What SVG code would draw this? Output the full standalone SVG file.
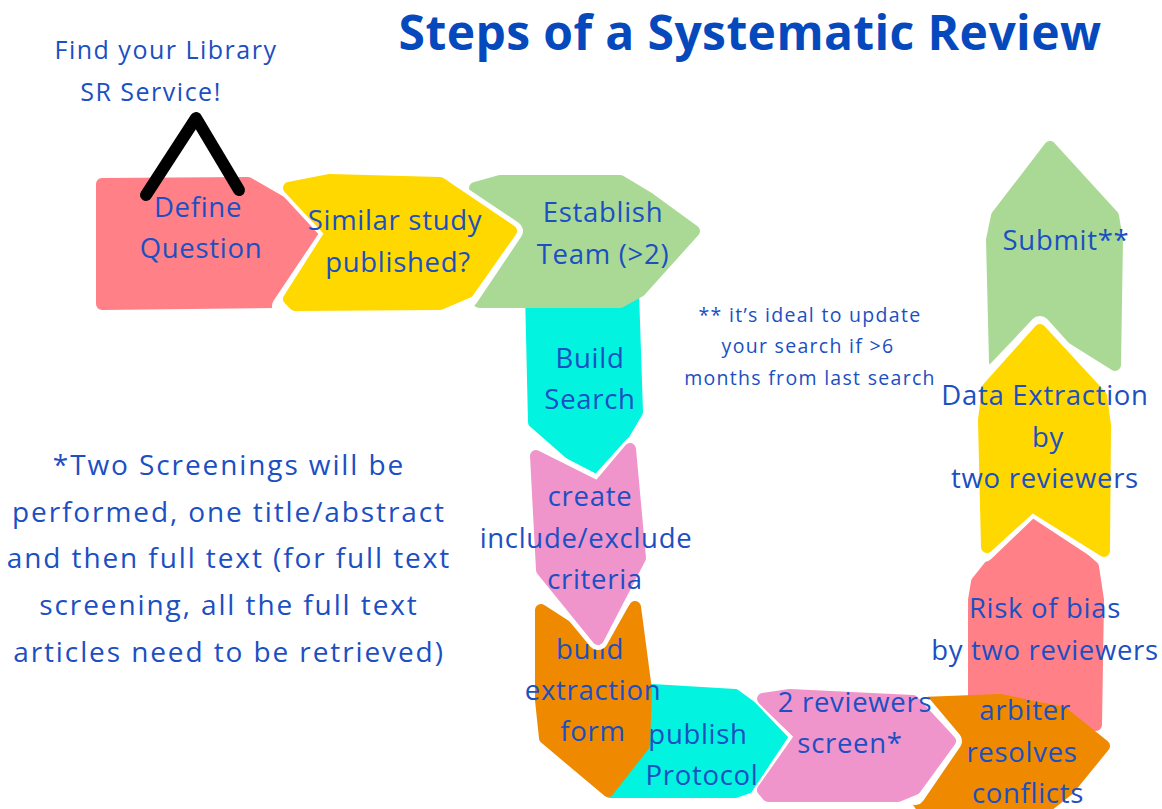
<svg xmlns="http://www.w3.org/2000/svg" xmlns:xlink="http://www.w3.org/1999/xlink" width="1162" height="809" viewBox="0 0 1162 809">
  <style>
    text { font-family: "Open Sans", "Liberation Sans", sans-serif; fill: #1b4fc2; text-anchor: middle; }
    .title { font-size: 48px; font-weight: 700; letter-spacing: 0.4px; fill: #0649bd; }
    .lbl { font-size: 27.5px; letter-spacing: 0.7px; }
    .note { font-size: 19.5px; letter-spacing: 1.3px; }
    .side { font-size: 28px; letter-spacing: 1.9px; }
    .find { font-size: 25px; letter-spacing: 1.5px; }
    .shape { stroke-width: 12; stroke-linejoin: round; }
    .halo { fill: none; stroke: #ffffff; stroke-width: 20; stroke-linejoin: round; stroke-linecap: round; }
    .rose { fill: #ff8087; stroke: #ff8087; }
    .gold { fill: #ffd800; stroke: #ffd800; }
    .sage { fill: #aad995; stroke: #aad995; }
    .aqua { fill: #02f3df; stroke: #02f3df; }
    .lilac { fill: #ef95cc; stroke: #ef95cc; }
    .amber { fill: #ef8900; stroke: #ef8900; }
    .caret { fill: none; stroke: #000000; stroke-width: 12; stroke-linecap: round; stroke-linejoin: round; }
  </style>

  <rect width="1162" height="809" fill="#ffffff"/>

  <text class="title" x="750" y="50">Steps of a Systematic Review</text>

  <!-- top row -->
  <g id="define-question">
    <polygon class="shape rose" points="102,184 248,183 340,236 290,296 274,302 102,304"/>
    <text class="lbl" x="198" y="217">Define</text>
    <text class="lbl" x="201" y="258">Question</text>
  </g>

  <g id="build-search">
    <polygon class="shape aqua" points="531,292 633,292 637,412 598,478 534,422"/>
    <text class="lbl" x="590" y="368">Build</text>
    <text class="lbl" x="590" y="409">Search</text>
  </g>

  <g id="establish-team">
    <polygon class="shape sage" points="475,188 500,181 620,181 650,199 694,231 640,291 620,302 479,302 475,296 512,232"/>
    <text class="lbl" x="603" y="222">Establish</text>
    <text class="lbl" x="603" y="264">Team (&gt;2)</text>
  </g>

  <g id="similar-study">
    <polyline class="halo" points="282,180 331,233 282,306"/>
    <polyline class="halo" points="440,182 513,231 468,298"/>
    <polygon class="shape gold" points="289,188 330,180 440,183 511,231 468,292 440,304 295,305 289,299 331,233"/>
    <text class="lbl" x="395" y="230">Similar study</text>
    <text class="lbl" x="398" y="272">published?</text>
  </g>

  <!-- left column and bottom row -->
  <g id="publish-protocol">
    <polygon class="shape aqua" points="605,700 652,690 735,695 790,735 752,786 735,792 610,792"/>
    <text class="lbl" x="698" y="744">publish</text>
    <text class="lbl" x="702" y="785">Protocol</text>
  </g>

  <g id="build-extraction-form">
    <polygon class="shape amber" points="541,610 603,650 635,607 646,690 644,745 608,791 545,738 541,700"/>
    <text class="lbl" x="590" y="659">build</text>
    <text class="lbl" x="593" y="700">extraction</text>
    <text class="lbl" x="593" y="741">form</text>
  </g>

  <g id="include-exclude-criteria">
    <polyline class="halo" points="532,452 598,486 634,446"/>
    <polyline class="halo" points="540,570 598,640 644,558"/>
    <polygon class="shape lilac" points="536,456 598,487 630,449 640,558 598,639 542,570"/>
    <text class="lbl" x="590" y="506">create</text>
    <text class="lbl" x="586" y="548">include/exclude</text>
    <text class="lbl" x="595" y="589">criteria</text>
  </g>

  <!-- right column -->
  <g id="submit">
    <polygon class="shape sage" points="1050,147 1113,216 1117,240 1115,365 1040,318 995,362 992,240 997,216"/>
    <text class="lbl" x="1066" y="250">Submit**</text>
  </g>

  <g id="risk-of-bias">
    <polygon class="shape rose" points="1032,513 1093,567 1098,600 1096,725 974,725 974,600 977,582"/>
    <text class="lbl" x="1045" y="618">Risk of bias</text>
    <text class="lbl" x="1045" y="660">by two reviewers</text>
  </g>

  <g id="data-extraction">
    <polyline class="halo" points="985,384 1040,326 1104,397"/>
    <polyline class="halo" points="984,552 1032,506 1108,556"/>
    <polygon class="shape gold" points="1040,330 1101,396 1105,425 1104,551 1032,506 987,547 984,420 988,388"/>
    <text class="lbl" x="1045" y="405">Data Extraction</text>
    <text class="lbl" x="1048" y="447">by</text>
    <text class="lbl" x="1045" y="488">two reviewers</text>
  </g>

  <g id="arbiter-resolves-conflicts">
    <polygon class="shape amber" points="921,703 1000,700 1063,713 1104,746 1069,789 1040,812 925,812 917,800 953,742"/>
    <text class="lbl" x="1025" y="720">arbiter</text>
    <text class="lbl" x="1022" y="762">resolves</text>
    <text class="lbl" x="1028" y="803">conflicts</text>
  </g>

  <g id="reviewers-screen">
    <polyline class="halo" points="757,690 801,736 757,802"/>
    <polyline class="halo" points="915,697 952,741 915,795"/>
    <polygon class="shape lilac" points="763,699 790,695 913,701 950,741 915,789 898,796 768,796 763,790 801,736"/>
    <text class="lbl" x="855" y="712">2 reviewers</text>
    <text class="lbl" x="850" y="753">screen*</text>
  </g>

  <!-- pointer from the first step up to the library service -->
  <g id="connectors">
    <polyline class="caret" points="146,195 196,118 239,190"/>
  </g>

  <g id="library-service">
    <text class="find" x="166" y="59">Find your Library</text>
    <text class="find" x="151" y="101">SR Service!</text>
  </g>

  <g id="update-note">
    <text class="note" x="810" y="322">** it’s ideal to  update</text>
    <text class="note" x="808" y="353">your search if &gt;6</text>
    <text class="note" x="810" y="385">months from last search</text>
  </g>

  <g id="screening-note">
    <text class="side" x="229" y="475">*Two Screenings will be</text>
    <text class="side" x="229" y="522">performed, one title/abstract</text>
    <text class="side" x="229" y="568">and then full text (for full text</text>
    <text class="side" x="229" y="615">screening, all the full text</text>
    <text class="side" x="229" y="662">articles need to be retrieved)</text>
  </g>
</svg>
